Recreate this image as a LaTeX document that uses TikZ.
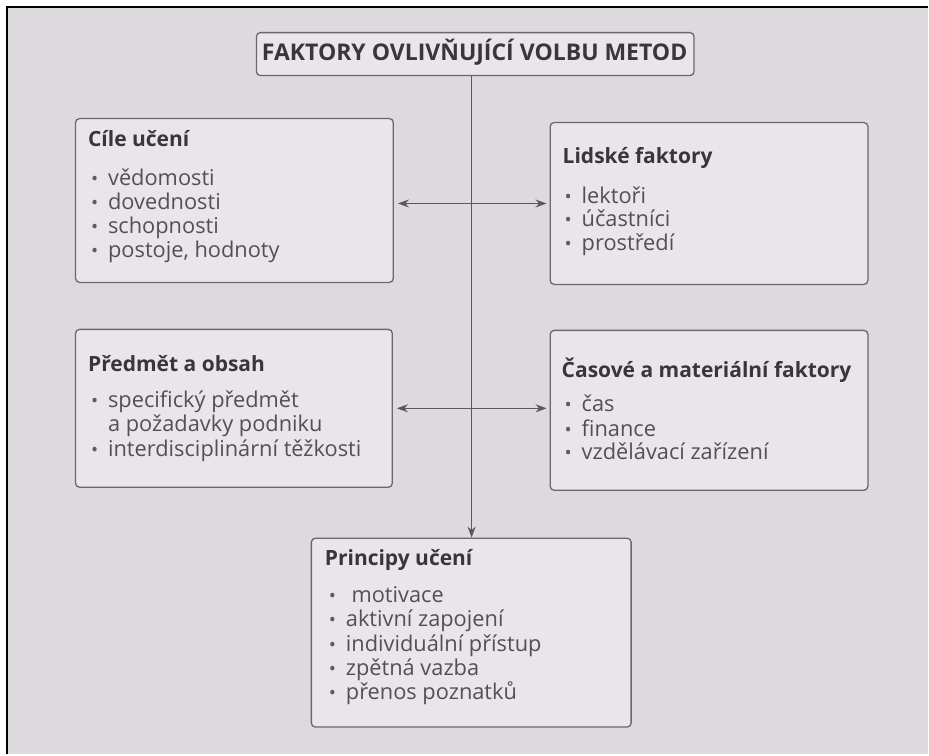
\documentclass[tikz,border=0pt]{standalone}
\usepackage{fontspec}
\setmainfont{Open Sans}
\usetikzlibrary{arrows.meta,calc}

\definecolor{paper}{HTML}{DCDADD}
\definecolor{boxfill}{HTML}{E8E6E9}
\definecolor{edge}{HTML}{6A686B}
\definecolor{ink}{HTML}{38363A}
\definecolor{inklight}{HTML}{525054}
\definecolor{dotcol}{HTML}{5E5C60}

% bullet set in a fixed-width box so every item starts at the same place
\newcommand{\bul}{\makebox[17pt][l]{\color{dotcol}\fontsize{19}{19}\selectfont •}}

\tikzset{
  panel/.style={draw=edge, line width=1.3pt, fill=boxfill, rounded corners=4pt,
    inner sep=0pt, anchor=north west},
  head/.style={anchor=base west, inner sep=0pt, text=ink,
    font=\fontsize{21}{24}\selectfont\bfseries},
  item/.style={anchor=base west, inner sep=0pt, text=inklight,
    font=\fontsize{21.8}{24}\selectfont},
  link/.style={draw=edge!85!black, line width=1.1pt},
  tip/.style={-{Stealth[length=11pt,width=8pt]}},
  tips/.style={{Stealth[length=11pt,width=8pt]}-{Stealth[length=11pt,width=8pt]}},
}

\begin{document}
\begin{tikzpicture}[x=1pt,y=-1pt]
% page and frame
\fill[white] (0,0) rectangle (929,755);
\fill[paper] (8,8) rectangle (929,755);
\draw[black, line width=1.6pt] (7,755) -- (7,7) -- (929,7);
\useasboundingbox (0,0) rectangle (929,755);

% title
\node[panel, minimum width=438pt, minimum height=43pt] (title) at (256,32) {};
\node[anchor=base, inner sep=0pt, text=ink, font=\fontsize{23}{26}\selectfont\bfseries]
  (titletext) at (475,61) {FAKTORY OVLIVŇUJÍCÍ VOLBU METOD};

% panels
\node[panel, minimum width=318pt, minimum height=164pt] (cile) at (75,118) {};
\node[panel, minimum width=318pt, minimum height=162pt] (lid) at (550,122) {};
\node[panel, minimum width=317pt, minimum height=158pt] (pred) at (75,329) {};
\node[panel, minimum width=318pt, minimum height=160pt] (cas) at (550,330) {};
\node[panel, minimum width=320pt, minimum height=189pt] (princ) at (311,538) {};

% Cíle učení
\node[head] (h1) at (88,147) {Cíle učení};
\node[item] (c1) at (91,186) {\bul vědomosti};
\node[item] (c2) at (91,210) {\bul dovednosti};
\node[item] (c3) at (91,234) {\bul schopnosti};
\node[item] (c4) at (91,258) {\bul postoje, hodnoty};

% Lidské faktory
\node[head] (h2) at (563,164) {Lidské faktory};
\node[item] (l1) at (565,204) {\bul lektoři};
\node[item] (l2) at (565,227) {\bul účastníci};
\node[item] (l3) at (565,251) {\bul prostředí};

% Předmět a obsah
\node[head] (h3) at (88,372) {Předmět a obsah};
\node[item] (p1) at (91,408) {\bul specifický předmět};
\node[item] (p2) at (108,432) {a požadavky podniku};
\node[item] (p3) at (91,457) {\bul interdisciplinární těžkosti};

% Časové a materiální faktory
\node[head] (h4) at (562,378) {Časové a materiální faktory};
\node[item] (t1) at (565,412) {\bul čas};
\node[item] (t2) at (565,437) {\bul finance};
\node[item] (t3) at (565,460) {\bul vzdělávací zařízení};

% Principy učení
\node[head] (h5) at (325,566) {Principy učení};
\node[item] (r1) at (329,603) {\bul\ motivace};
\node[item] (r2) at (329,627) {\bul aktivní zapojení};
\node[item] (r3) at (329,652) {\bul individuální přístup};
\node[item] (r4) at (329,676) {\bul zpětná vazba};
\node[item] (r5) at (329,700) {\bul přenos poznatků};

% connectors
\coordinate (spine) at (472,0);
\draw[link, tip] (title.south -| spine) -- (princ.north -| spine);
\draw[link, tips] ($(cile.east)+(4,3)$) -- ($(cile.east -| lid.west)+(-3,3)$);
\draw[link, tips] ($(pred.east)+(4,0)$) -- ($(pred.east -| cas.west)+(-3,0)$);
\end{tikzpicture}
\end{document}
